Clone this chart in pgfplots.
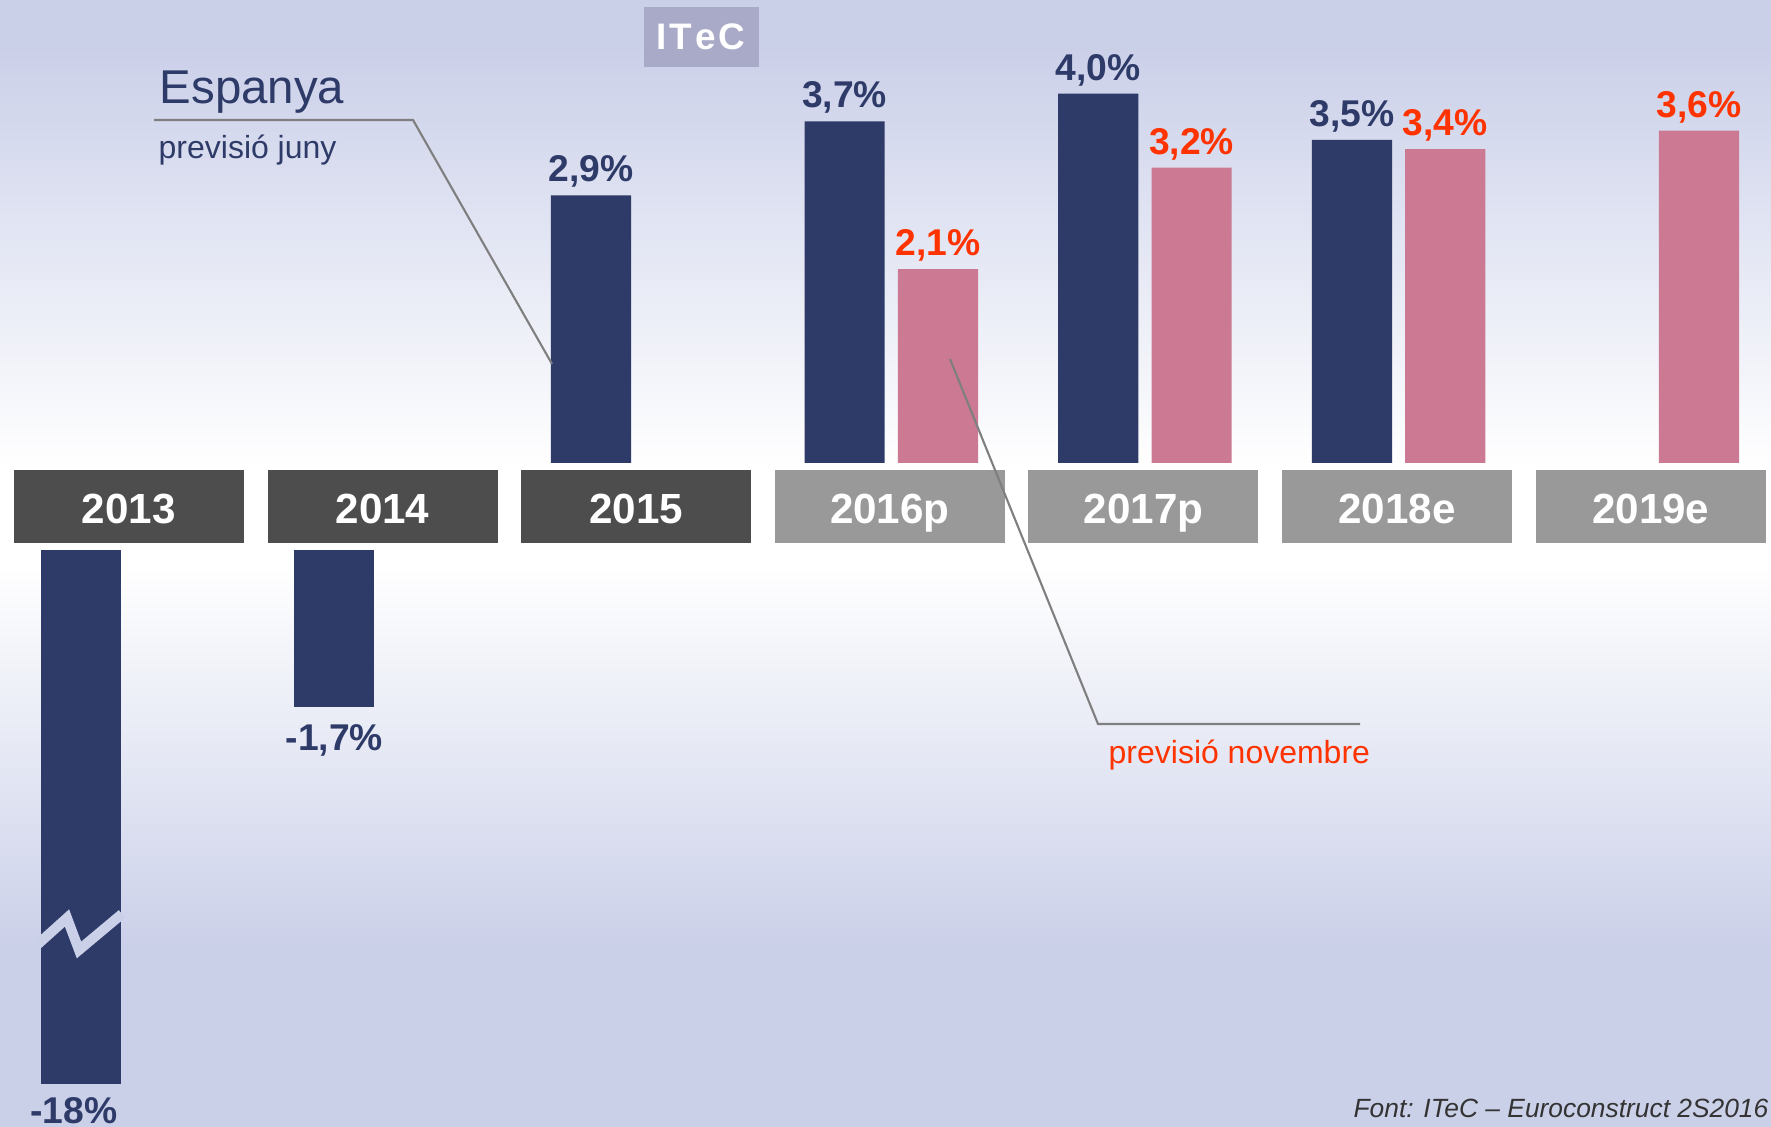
\documentclass[border=0pt]{standalone}
\usepackage{pgfplots}
\pgfplotsset{compat=1.18}
\usepackage{fontspec}
\setmainfont{Liberation Sans}

\definecolor{navy}{HTML}{2E3A68}
\definecolor{rose}{HTML}{CC7A94}
\definecolor{redlab}{HTML}{FF3300}
\definecolor{bgtop}{HTML}{CBD0E9}
\definecolor{boxdark}{HTML}{4D4D4D}
\definecolor{boxlight}{HTML}{999999}
\definecolor{logo}{HTML}{A8AAC7}
\definecolor{leader}{HTML}{7F7F7F}
\definecolor{srcgray}{HTML}{333333}

\tikzset{lbl/.style={font=\fontsize{10.6}{12}\selectfont\bfseries, inner sep=2pt}}
\pgfplotsset{
  common/.style={
    width=177.1mm, scale only axis,
    xmin=-0.508, xmax=6.474,
    hide axis, ybar, bar width=0.316,
    enlargelimits=false,
  },
}

\begin{document}
\begin{tikzpicture}
% background, picture is 177.1mm x 112.7mm (1 px = 0.1mm)
\fill[bgtop] (0mm,112.7mm) rectangle (177.1mm,108mm);
\shade[top color=bgtop,bottom color=white] (0mm,108mm) rectangle (177.1mm,66mm);
\fill[white] (0mm,66mm) rectangle (177.1mm,56mm);
\shade[top color=white,bottom color=bgtop] (0mm,56mm) rectangle (177.1mm,18mm);
\fill[bgtop] (0mm,18mm) rectangle (177.1mm,0mm);

% positive part
\begin{axis}[common, at={(0mm,66.4mm)}, anchor=south west, height=46.3mm,
  ymin=0, ymax=5.016, clip=false,
  nodes near coords, point meta=explicit symbolic]
\addplot[fill=navy, draw=none, bar shift=-0.178,
  nodes near coords style={lbl, text=navy}]
  coordinates {(2,2.9)[2,9\%] (3,3.7)[3,7\%] (4,4.0)[4,0\%] (5,3.5)[3,5\%]};
\addplot[fill=rose, draw=none, bar shift=0.19,
  nodes near coords style={lbl, text=redlab}]
  coordinates {(3,2.1)[2,1\%] (4,3.2)[3,2\%] (5,3.4)[3,4\%] (6,3.6)[3,6\%]};
\end{axis}

% negative part (2013 bar is cut off)
\begin{axis}[common, at={(0mm,57.7mm)}, anchor=north west, height=53.4mm,
  ymin=-5.79, ymax=0]
\addplot[fill=navy, draw=none, bar shift=-0.19,
  nodes near coords, point meta=explicit symbolic,
  nodes near coords style={lbl, text=navy, anchor=north, yshift=-1mm}]
  coordinates {(1,-1.7)[-1,7\%]};
\addplot[fill=navy, draw=none, bar shift=-0.19] coordinates {(0,-18)};
\end{axis}
\node[lbl, text=navy, anchor=north, inner sep=1pt] at (7.4mm,3.4mm) {-18\%};

% axis break
\draw[bgtop, line width=1mm] (3.7mm,18.2mm) -- (6.7mm,20.9mm) -- (7.9mm,17.7mm) -- (12.2mm,21.3mm);

% category boxes
\foreach \i/\lab/\c in {0/2013/boxdark,1/2014/boxdark,2/2015/boxdark,
  3/2016p/boxlight,4/2017p/boxlight,5/2018e/boxlight,6/2019e/boxlight}{
  \fill[\c] ({(\i+0.508)*25.365mm-11.5mm},58.4mm) rectangle ++(23mm,7.3mm);
  \node[anchor=base, inner sep=0, text=white,
    font=\fontsize{12}{14}\selectfont\bfseries]
    at ({(\i+0.508)*25.365mm},60.3mm) {\lab};
}

% leader lines
\draw[leader, line width=0.6pt] (15.4mm,100.7mm) -- (41.3mm,100.7mm) -- (55.2mm,76.3mm);
\draw[leader, line width=0.6pt] (95.0mm,76.8mm) -- (109.8mm,40.3mm) -- (136.0mm,40.3mm);

% texts
\node[anchor=base west, inner sep=0, text=navy,
  font=\fontsize{13.5}{16}\selectfont] at (15.9mm,102.3mm) {Espanya};
\node[anchor=base west, inner sep=0, text=navy,
  font=\fontsize{9.1}{11}\selectfont] at (15.8mm,96.8mm) {previsió juny};
\node[anchor=base west, inner sep=0, text=redlab,
  font=\fontsize{9.1}{11}\selectfont] at (110.8mm,36.3mm) {previsió novembre};
\node[anchor=base east, inner sep=0, text=srcgray,
  font=\fontsize{7.5}{9}\selectfont\itshape] at (176.9mm,0.9mm)
  {Font: ITeC -- Euroconstruct 2S2016};

% logo
\fill[logo] (64.4mm,112.0mm) rectangle (75.9mm,106.0mm);
\node[text=white, font=\fontsize{10.5}{12}\selectfont\bfseries] at (70.1mm,109.0mm)
  {I\kern0.8pt T\kern0.8pt e\kern0.8pt C};

\pgfresetboundingbox
\useasboundingbox (0mm,0mm) rectangle (177.1mm,112.7mm);
\end{tikzpicture}
\end{document}
